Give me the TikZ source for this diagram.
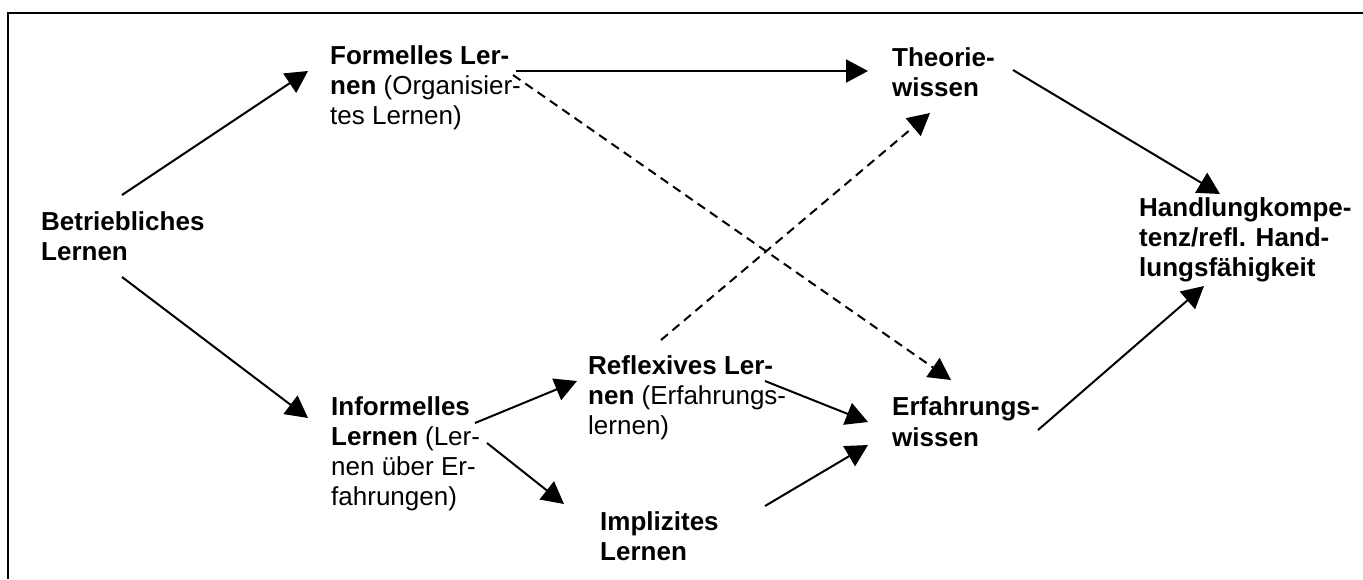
\documentclass[tikz,border=0pt]{standalone}
\usepackage{fontspec}
\setmainfont{Liberation Sans}
\usetikzlibrary{arrows.meta}

\begin{document}
\begin{tikzpicture}[x=1pt,y=-1pt,
  lbl/.style={anchor=north west, inner sep=0pt, align=left,
              font=\fontsize{26}{30}\selectfont},
  arr/.style={line width=2pt, -{Triangle[length=22pt,width=23pt]}},
  darr/.style={arr, dash pattern=on 9pt off 6pt}]
\useasboundingbox (0,0) rectangle (1363,579);

% frame
\draw[line width=2.5pt] (8,579) -- (8,13) -- (1363,13);

% labels
\node[lbl] (bl) at (41,211) {\textbf{Betriebliches}\\\textbf{Lernen}};
\node[lbl] (fl) at (330,45) {\textbf{Formelles Ler-}\\\textbf{nen} (Organisier-\\tes Lernen)};
\node[lbl] (th) at (892,47) {\textbf{Theorie-}\\\textbf{wissen}};
\node[lbl] (hk) at (1139,197)
  {\textbf{Handlungkompe-}\\\textbf{tenz/refl. Hand-}\\\textbf{lungsfähigkeit}};
\node[lbl, font=\fontsize{26}{31}\selectfont] (ew) at (892,396) {\textbf{Erfahrungs-}\\\textbf{wissen}};
\node[lbl] (rl) at (588,355) {\textbf{Reflexives Ler-}\\\textbf{nen} (Erfahrungs-\\lernen)};
\node[lbl] (il) at (331,396) {\textbf{Informelles}\\\textbf{Lernen} (Ler-\\nen über Er-\\fahrungen)};
\node[lbl] (im) at (600,511) {\textbf{Implizites}\\\textbf{Lernen}};

% connectors
\draw[arr] ([shift={(81,-16)}]bl.north west) -- ([shift={(-22,26)}]fl.north west);
\draw[arr] ([shift={(81,66)}]bl.north west) -- ([shift={(-23,22)}]il.north west);
\draw[arr] ([shift={(186,26)}]fl.north west) -- ([shift={(-24,24)}]th.north west);
\draw[darr] ([shift={(183,30)}]fl.north west) -- ([shift={(59,-16)}]ew.north west);
\draw[darr] ([shift={(73,-15)}]rl.north west) -- ([shift={(38,66)}]th.north west);
\draw[arr] ([shift={(121,23)}]th.north west) -- ([shift={(81,-3)}]hk.north west);
\draw[arr] ([shift={(146,34)}]ew.north west) -- ([shift={(65,89)}]hk.north west);
\draw[arr] ([shift={(144,27)}]il.north west) -- ([shift={(-11,26)}]rl.north west);
\draw[arr] ([shift={(156,47)}]il.north west) -- ([shift={(-36,-7)}]im.north west);
\draw[arr] ([shift={(177,26)}]rl.north west) -- ([shift={(-24,26)}]ew.north west);
\draw[arr] ([shift={(165,-5)}]im.north west) -- ([shift={(-24,49)}]ew.north west);
\end{tikzpicture}
\end{document}
